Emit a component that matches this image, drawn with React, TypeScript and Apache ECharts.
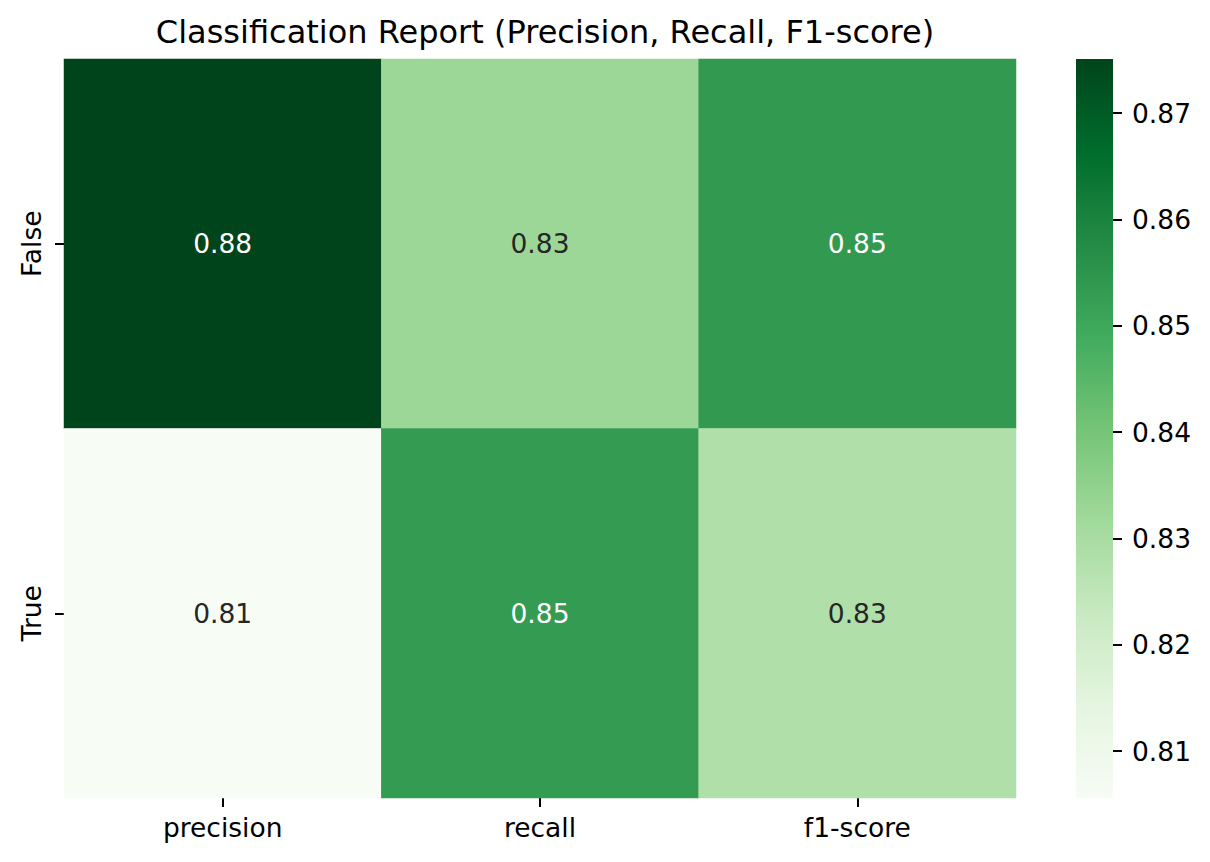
import React, { useEffect, useRef } from "react";
import * as echarts from "echarts";

const columns = ["precision", "recall", "f1-score"];
const rows = ["False", "True"];
const precision = [0.8751, 0.8056];
const recall = [0.8325, 0.853];
const f1Score = [0.8538, 0.8282];
const colorbarTicks = [0.81, 0.82, 0.83, 0.84, 0.85, 0.86, 0.87];
const greens = ["#f7fcf5", "#e5f5e0", "#c7e9c0", "#a1d99b", "#74c476", "#41ab5d", "#238b45", "#006d2c", "#00441b"];

const FONT = "DejaVu Sans";
const LABEL_SIZE = 26.5;

function hexToRgb(h: string) {
  return [parseInt(h.slice(1, 3), 16), parseInt(h.slice(3, 5), 16), parseInt(h.slice(5, 7), 16)];
}
function colorAt(t: number) {
  const p = Math.max(0, Math.min(1, t)) * (greens.length - 1);
  const i = Math.min(Math.floor(p), greens.length - 2);
  const f = p - i;
  const a = hexToRgb(greens[i]);
  const b = hexToRgb(greens[i + 1]);
  return a.map((v, k) => v + (b[k] - v) * f);
}
function luminance(rgb: number[]) {
  const lin = rgb.map((c) => {
    const s = c / 255;
    return s <= 0.03928 ? s / 12.92 : Math.pow((s + 0.055) / 1.055, 2.4);
  });
  return 0.2126 * lin[0] + 0.7152 * lin[1] + 0.0722 * lin[2];
}

export default function App() {
  const ref = useRef<HTMLDivElement>(null);
  useEffect(() => {
    document.body.style.margin = "0";
    if (!ref.current) return;
    const chart = echarts.init(ref.current, undefined, { renderer: "svg" });
    const cols = [precision, recall, f1Score];
    const all = cols.flat();
    const vmin = Math.min(...all);
    const vmax = Math.max(...all);
    const data: any[] = [];
    cols.forEach((col, ci) => {
      col.forEach((v, ri) => {
        const rgb = colorAt((v - vmin) / (vmax - vmin));
        const textColor = luminance(rgb) > 0.408 ? "#262626" : "#ffffff";
        data.push({ value: [ci, ri, v], label: { color: textColor } });
      });
    });
    const gx = 64, gy = 59, gw = 952, gh = 739;
    const cbx = 1076, cbw = 37;
    chart.setOption({
      animation: false,
      backgroundColor: "#ffffff",
      title: {
        text: "Classification Report (Precision, Recall, F1-score)",
        left: gx + gw / 2,
        textAlign: "center",
        top: 11,
        textStyle: { fontFamily: FONT, fontSize: 32, fontWeight: "normal", color: "#000000" },
      },
      grid: [
        { left: gx, top: gy, width: gw, height: gh },
        { left: cbx, top: gy, width: cbw, height: gh },
      ],
      xAxis: [
        {
          type: "category",
          gridIndex: 0,
          data: columns,
          axisLine: { show: false },
          axisTick: { show: true, alignWithLabel: true, length: 9, lineStyle: { color: "#000", width: 2 } },
          axisLabel: { fontFamily: FONT, fontSize: LABEL_SIZE, color: "#000", margin: 16 },
          splitLine: { show: false },
          splitArea: { show: false },
        },
        { type: "value", gridIndex: 1, show: false, min: 0, max: 1 },
      ],
      yAxis: [
        {
          type: "category",
          gridIndex: 0,
          data: rows,
          inverse: true,
          axisLine: { show: false },
          axisTick: { show: true, alignWithLabel: true, length: 9, lineStyle: { color: "#000", width: 2 } },
          axisLabel: { fontFamily: FONT, fontSize: LABEL_SIZE, color: "#000", margin: 19, rotate: 90 },
          splitLine: { show: false },
          splitArea: { show: false },
        },
        {
          type: "value",
          gridIndex: 1,
          position: "right",
          min: vmin,
          max: vmax,
          axisLine: { show: false, onZero: false },
          splitLine: { show: false },
          axisTick: { show: true, length: 9, lineStyle: { color: "#000", width: 2 }, customValues: colorbarTicks },
          axisLabel: {
            fontFamily: FONT,
            fontSize: LABEL_SIZE,
            color: "#000",
            margin: 19,
            customValues: colorbarTicks,
            formatter: (v: number) => v.toFixed(2),
          },
        },
      ],
      visualMap: {
        type: "continuous",
        show: false,
        min: vmin,
        max: vmax,
        dimension: 2,
        seriesIndex: 0,
        inRange: { color: greens },
      },
      graphic: [
        {
          type: "rect",
          shape: { x: cbx, y: gy, width: cbw, height: gh },
          style: {
            fill: new echarts.graphic.LinearGradient(
              0, 1, 0, 0,
              greens.map((c, i) => ({ offset: i / (greens.length - 1), color: c }))
            ),
          },
          silent: true,
        },
      ],
      series: [
        {
          type: "heatmap",
          xAxisIndex: 0,
          yAxisIndex: 0,
          data,
          label: {
            show: true,
            fontFamily: FONT,
            fontSize: LABEL_SIZE,
            formatter: (p: any) => p.value[2].toFixed(2),
          },
          itemStyle: { borderWidth: 0 },
          emphasis: { disabled: true },
        },
      ],
    });
    return () => chart.dispose();
  }, []);
  return <div ref={ref} style={{ width: 1210, height: 862 }} />;
}
